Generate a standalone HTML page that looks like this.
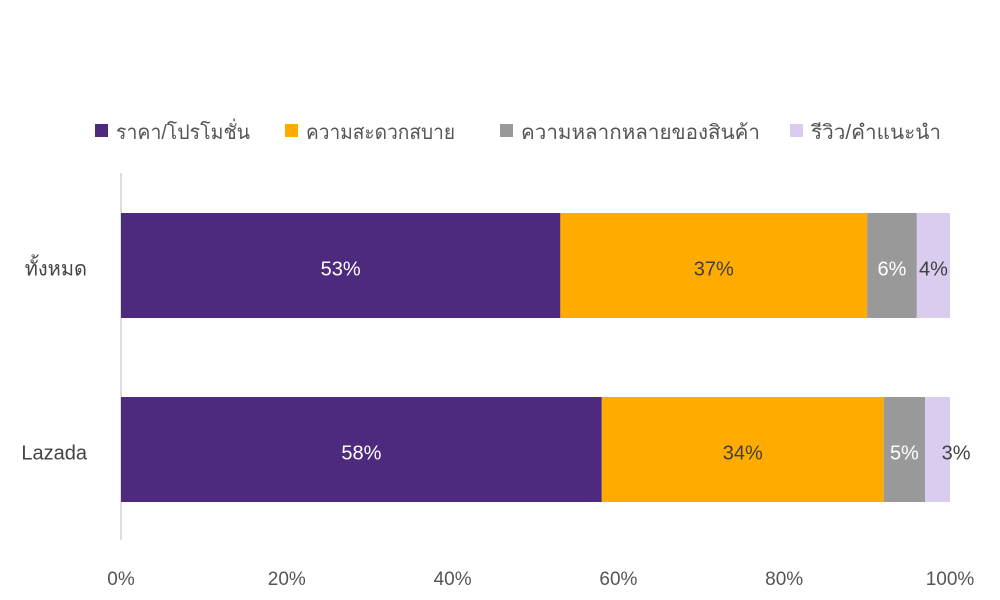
<!DOCTYPE html>
<html><head><meta charset="utf-8"><style>
body{margin:0;background:#fff;width:1000px;height:595px;overflow:hidden;font-family:"Liberation Sans","DejaVu Sans",sans-serif;}
</style></head><body>
<svg id="chart" width="1000" height="595" xmlns="http://www.w3.org/2000/svg" font-family="Liberation Sans, DejaVu Sans, sans-serif"></svg>
<script>
const categories=["ทั้งหมด","Lazada"];
const seriesNames=["ราคา/โปรโมชั่น","ความสะดวกสบาย","ความหลากหลายของสินค้า","รีวิว/คำแนะนำ"];
const promo=[53,58];
const convenience=[37,34];
const variety=[6,5];
const review=[4,3];
const xTicks=[0,20,40,60,80,100];
const series=[promo,convenience,variety,review];
const colors=["#4e2a7e","#ffab00","#999999","#d9ccee"];
const textColors=["#ffffff","#404040","#ffffff","#404040"];
const svg=document.getElementById('chart');
const NS="http://www.w3.org/2000/svg";
const x=v=>121+v*8.29;
const rowTop=[213,397], barH=105;
function el(t,a){const e=document.createElementNS(NS,t);for(const k in a)e.setAttribute(k,a[k]);svg.appendChild(e);return e;}
// legend
const legX=[95,285,500,790];
const legW=[134,149,239,130];
seriesNames.forEach((n,i)=>{
 const r=el('rect',{x:legX[i],y:124,width:13,height:13,fill:colors[i]});
 
 
 const t=el('text',{x:legX[i]+21,y:139,'font-size':20,fill:'#555',textLength:legW[i],lengthAdjust:'spacingAndGlyphs'});
 t.textContent=n;
 
 
});
// axis
const ax=el('line',{x1:121,y1:173,x2:121,y2:540,stroke:'#bbb','stroke-width':1});


xTicks.forEach(v=>{
 const t=el('text',{x:x(v),y:585,'font-size':19,fill:'#555','text-anchor':'middle'});
 t.textContent=v+'%';
 
 
});
categories.forEach((c,ci)=>{
 const y0=rowTop[ci];
 const t=el('text',{x:87,y:y0+barH/2+10,'font-size':20,fill:'#444','text-anchor':'end'});
 t.textContent=c;
 
 
 let acc=0;
 series.forEach((s,si)=>{
  const v=s[ci];
  const r=el('rect',{x:x(acc),y:y0,width:x(acc+v)-x(acc),height:barH,fill:colors[si]});
  
  
  let cx=(x(acc)+x(acc+v))/2;
  if(x(acc+v)-x(acc)<30) cx=x(acc)+31;
  const lt=el('text',{x:cx,y:y0+barH/2+10,'font-size':20,fill:textColors[si],'text-anchor':'middle'});
  lt.textContent=v+'%';
  
  
  acc+=v;
 });
});
</script>
</body></html>
